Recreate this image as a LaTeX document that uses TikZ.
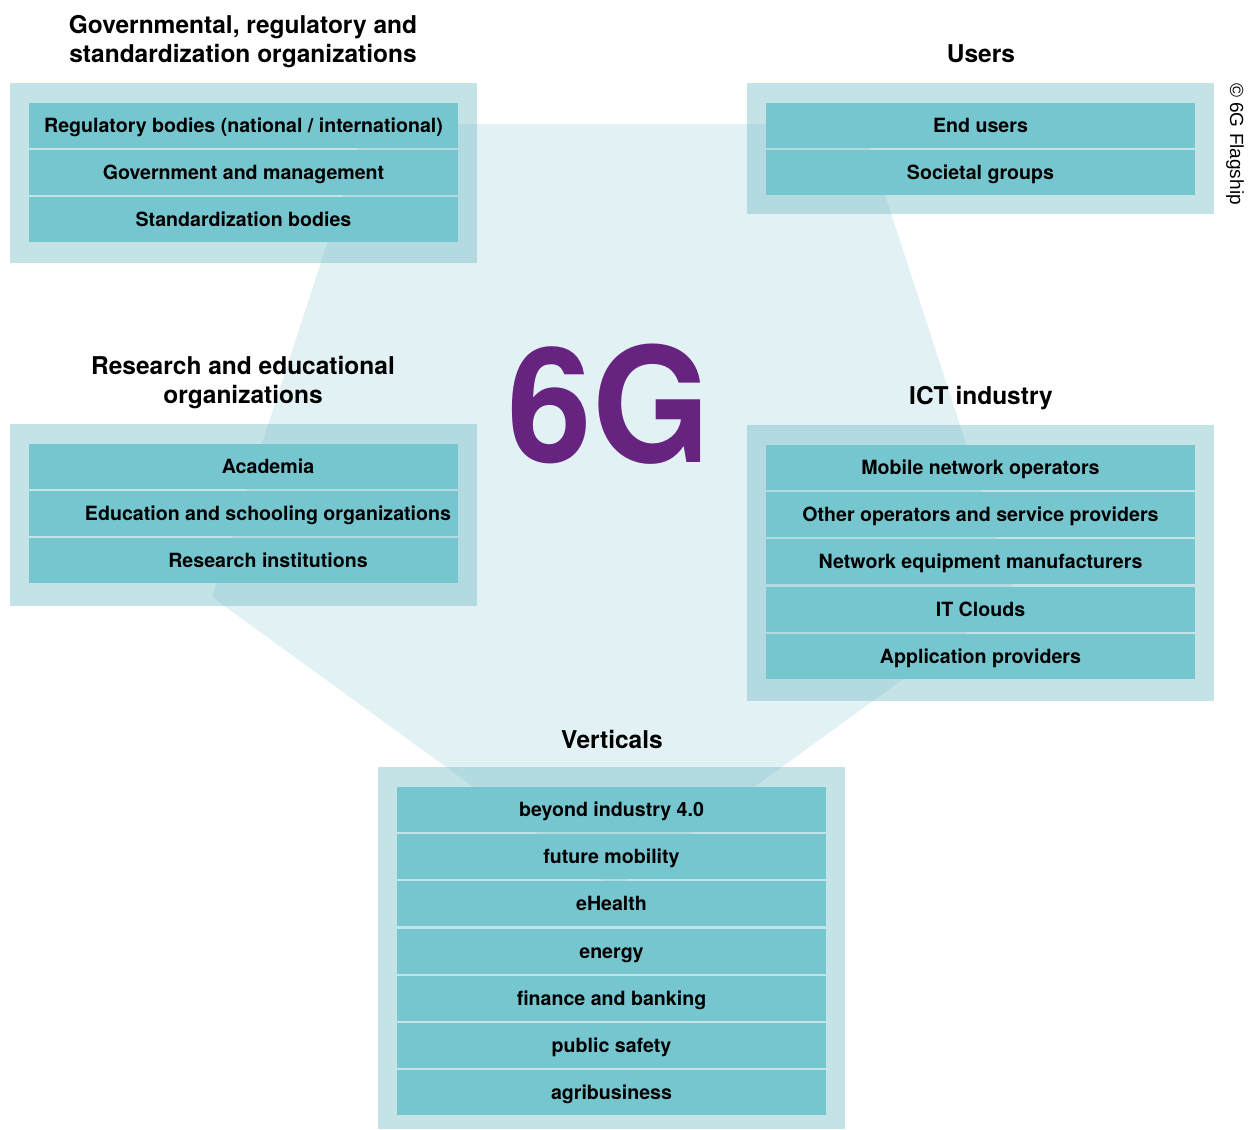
\documentclass[tikz,border=0pt]{standalone}
\usepackage{fontspec}
\setmainfont{TeX Gyre Heros}
\newfontfamily\creditfont{Liberation Sans}
\usetikzlibrary{positioning}

\definecolor{rowteal}{RGB}{118,198,208}
\definecolor{frameteal}{RGB}{112,187,197}
\definecolor{pentafill}{RGB}{226,241,244}
\definecolor{sixgpurple}{RGB}{102,35,128}

\tikzset{
	groupframe/.style={fill=frameteal, fill opacity=0.41, minimum width=467pt, inner sep=0pt},
	row/.style={fill=rowteal, minimum width=429pt, minimum height=45pt, inner sep=0pt, text height=18pt, text depth=4pt, font=\fontsize{19.6}{24}\selectfont\bfseries},
	resrow/.style={row, execute at begin node={\hspace*{49pt}}},
	heading/.style={align=center, inner sep=0pt, font=\fontsize{24.5}{29}\selectfont\bfseries},
}

\begin{document}
\begin{tikzpicture}[x=1pt,y=1pt,yscale=-1]
	\useasboundingbox (0,0) rectangle (1252,1129);

	%pentagon behind everything
	\fill [pentafill] (614,889) -- (212,597) -- (366,124) -- (862,124) -- (1016,597) -- cycle;

	%group frames
	\node [groupframe, minimum height=180.6pt] (govframe) at (243,173) {};
	\node [groupframe, minimum height=131.6pt] (userframe) at (980.7,148.5) {};
	\node [groupframe, minimum height=181.7pt] (resframe) at (243,514.8) {};
	\node [groupframe, minimum height=275.7pt] (ictframe) at (980.7,562.9) {};
	\node [groupframe, minimum height=361.7pt] (vertframe) at (611.8,948.2) {};

	% Governmental
	\node [heading, anchor=south] (govhead) at (243,68.3) {Governmental, regulatory and\\standardization organizations};
	\node [row] (gov1) at (243.5,125.5) {Regulatory bodies (national / international)};
	\node [row] (gov2) at (243.5,172.7) {Government and management};
	\node [row] (gov3) at (243.5,219.9) {Standardization bodies};

	% Users
	\node [heading, anchor=base] (userhead) at (981,63) {Users};
	\node [row] (user1) at (980.5,125.5) {End users};
	\node [row] (user2) at (980.5,172.7) {Societal groups};

	% Research
	\node [heading, anchor=south] (reshead) at (243,409.3) {Research and educational\\organizations};
	\node [resrow] (res1) at (243.5,466.5) {Academia};
	\node [resrow] (res2) at (243.5,513.7) {Education and schooling organizations};
	\node [resrow] (res3) at (243.5,560.9) {Research institutions};

	% ICT industry
	\node [heading, anchor=base] (icthead) at (981,404) {ICT industry};
	\node [row] (ict1) at (980.5,467.5) {Mobile network operators};
	\node [row] (ict2) at (980.5,514.7) {Other operators and service providers};
	\node [row] (ict3) at (980.5,561.9) {Network equipment manufacturers};
	\node [row] (ict4) at (980.5,609.1) {IT Clouds};
	\node [row] (ict5) at (980.5,656.3) {Application providers};

	% Verticals
	\node [heading, anchor=base] (verthead) at (612,748) {Verticals};
	\node [row] (vert1) at (611.5,809.5) {beyond industry 4.0};
	\node [row] (vert2) at (611.5,856.7) {future mobility};
	\node [row] (vert3) at (611.5,903.9) {eHealth};
	\node [row] (vert4) at (611.5,951.1) {energy};
	\node [row] (vert5) at (611.5,998.3) {finance and banking};
	\node [row] (vert6) at (611.5,1045.5) {public safety};
	\node [row] (vert7) at (611.5,1092.7) {agribusiness};

	% 6G and credit
	\node [anchor=base, inner sep=0pt, text=sixgpurple, font=\fontsize{160}{160}\selectfont\bfseries] (sixg) at (609,462) {\scalebox{0.95}[1]{6G}};
	\node [rotate=-90, inner sep=0pt, font=\creditfont\fontsize{19}{22}\selectfont] (credit) at (1235,144) {© 6G Flagship};
\end{tikzpicture}
\end{document}
